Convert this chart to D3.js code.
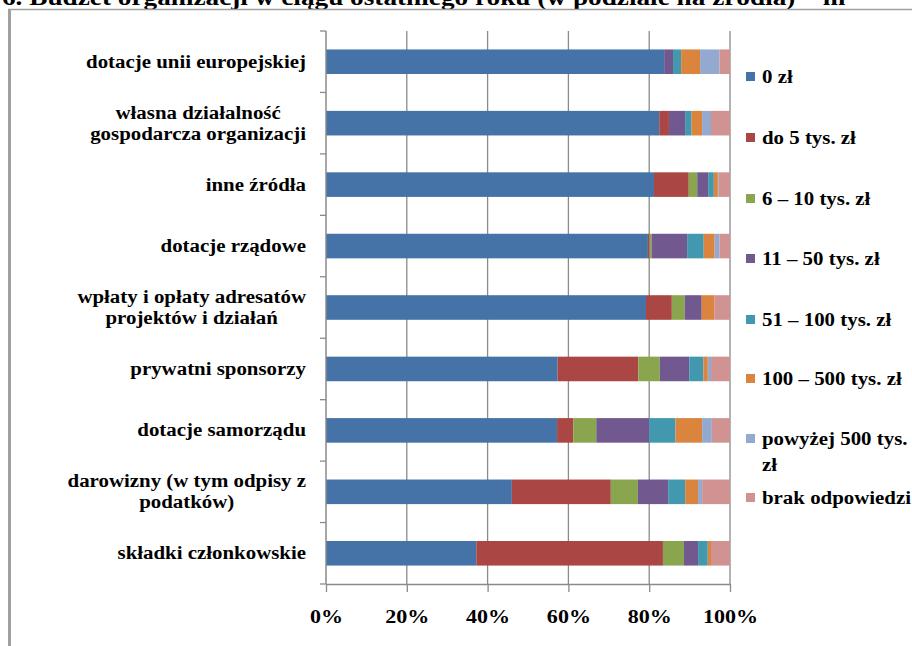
<!DOCTYPE html>
<html>
<head>
<meta charset="utf-8">
<script src="https://cdn.jsdelivr.net/npm/d3@7"></script>
<style>
    body { margin: 0; background: #fff; }
    svg { display: block; }
    text { font-family: "Liberation Serif", "Times New Roman", serif; font-weight: bold; fill: #000; }
</style>
</head>
<body>
<div id="chart"></div>
<script>
//Datos del gráfico
const categorias = [
    ['dotacje unii europejskiej'],
    ['własna działalność', 'gospodarcza organizacji'],
    ['inne źródła'],
    ['dotacje rządowe'],
    ['wpłaty i opłaty adresatów', 'projektów i działań'],
    ['prywatni sponsorzy'],
    ['dotacje samorządu'],
    ['darowizny (w tym odpisy z', 'podatków)'],
    ['składki członkowskie']
];
const series = ['0 zł', 'do 5 tys. zł', '6 – 10 tys. zł', '11 – 50 tys. zł', '51 – 100 tys. zł', '100 – 500 tys. zł', 'powyżej 500 tys. zł', 'brak odpowiedzi'];
const leyenda = [['0 zł'], ['do 5 tys. zł'], ['6 – 10 tys. zł'], ['11 – 50 tys. zł'], ['51 – 100 tys. zł'], ['100 – 500 tys. zł'], ['powyżej 500 tys.', 'zł'], ['brak odpowiedzi']];

//Valores (%) por serie, en el orden de las categorías
const v0zl     = [83.7, 82.4, 81.1, 79.6, 79.2, 57.4, 57.2, 46.0, 37.2];
const vDo5     = [0.0, 2.4, 8.6, 0.4, 6.4, 20.0, 4.0, 24.5, 46.2];
const v6_10    = [0.0, 0.0, 2.1, 0.5, 3.2, 5.3, 5.7, 6.7, 5.2];
const v11_50   = [2.2, 4.0, 2.7, 8.8, 4.2, 7.3, 13.1, 7.5, 3.5];
const v51_100  = [2.0, 1.6, 1.4, 4.1, 0.0, 3.5, 6.5, 4.2, 2.4];
const v100_500 = [4.7, 2.6, 1.0, 2.7, 3.1, 1.1, 6.6, 3.2, 0.8];
const vPow500  = [4.8, 2.2, 0.2, 1.2, 0.0, 0.8, 2.4, 1.0, 0.0];
const vBrak    = [2.6, 4.7, 2.8, 2.6, 3.9, 4.7, 4.5, 6.9, 4.7];
const valores = [v0zl, vDo5, v6_10, v11_50, v51_100, v100_500, vPow500, vBrak];

const xTicks = [0, 0.2, 0.4, 0.6, 0.8, 1];
const titulo = '6. Budżet organizacji w ciągu ostatniego roku (w podziale na źródła) – m';

//Colores (Excel 2007)
const COLORES = ['#4572A7', '#AA4643', '#89A54E', '#71588F', '#4198AF', '#DB843D', '#93A9CF', '#D19392'];
const COLOR_EJE = '#8a8a8a';
const STRETCH = 1.16;

let width = 912, height = 646;
let svg = d3.select('#chart').append('svg')
    .attr('width', width)
    .attr('height', height);

//Tabla para d3.stack
let data = categorias.map(function(c, i) {
    let row = { key: c.join(' ') };
    series.forEach(function(s, j) { row[s] = valores[j][i]; });
    return row;
});

let stacked = d3.stack()
    .keys(series)
    .offset(d3.stackOffsetExpand)(data);

let x = d3.scaleLinear().domain([0, 1]).range([326, 730]);
let y = d3.scaleBand()
    .domain(data.map(function(d) { return d.key; }))
    .range([31, 584])
    .paddingInner(0.6)
    .paddingOuter(0.3);

//Título (cortado arriba, como en el original)
svg.append('text')
    .attr('transform', 'translate(2,5) scale(' + STRETCH + ',1)')
    .style('font-size', '23.5px')
    .text(titulo);

//Marco exterior
svg.append('line')
    .attr('x1', 8).attr('x2', width).attr('y1', 9.5).attr('y2', 9.5)
    .attr('stroke', '#a0a0a0').attr('stroke-width', 1.5);
svg.append('line')
    .attr('x1', 9.5).attr('x2', 9.5).attr('y1', 9).attr('y2', height)
    .attr('stroke', '#a0a0a0').attr('stroke-width', 3);

//Líneas de cuadrícula
svg.append('g')
    .selectAll('line')
    .data(xTicks.slice(1))
    .enter()
    .append('line')
    .attr('x1', function(d) { return x(d); })
    .attr('x2', function(d) { return x(d); })
    .attr('y1', 31)
    .attr('y2', 584)
    .attr('stroke', COLOR_EJE)
    .attr('stroke-width', 1.3);

//Barras
svg.append('g')
    .selectAll('g')
    .data(stacked)
    .enter()
    .append('g')
    .attr('fill', function(d, i) { return COLORES[i]; })
    .selectAll('rect')
    .data(function(d) { return d; })
    .enter()
    .append('rect')
    .attr('x', function(d) { return x(d[0]); })
    .attr('width', function(d) { return x(d[1]) - x(d[0]); })
    .attr('y', function(d) { return y(d.data.key); })
    .attr('height', y.bandwidth());

//Eje X
let xAxis = function(g) {
    g.call(d3.axisBottom(x).tickValues(xTicks).tickFormat(d3.format('.0%')).tickSize(8).tickSizeOuter(0).tickPadding(18));
    g.call(function(g) { g.select('.domain').attr('stroke', COLOR_EJE).attr('stroke-width', 1.5); });
    g.call(function(g) { g.selectAll('.tick line').attr('stroke', COLOR_EJE).attr('stroke-width', 1.3); });
    g.call(function(g) {
        g.selectAll('.tick text')
            .attr('transform', 'scale(' + STRETCH + ',1)')
            .style('font-family', '"Liberation Serif", serif')
            .style('font-size', '19px')
            .attr('fill', '#000');
    });
};
svg.append('g')
    .attr('transform', 'translate(0,584)')
    .call(xAxis);

//Eje Y (línea y marcas entre categorías)
let gap = (y.step() - y.bandwidth()) / 2;
let limites = y.domain().map(function(d) { return y(d) - gap; });
limites.push(584);
svg.append('line')
    .attr('x1', 326).attr('x2', 326).attr('y1', 31).attr('y2', 584)
    .attr('stroke', COLOR_EJE).attr('stroke-width', 1.5);
svg.append('g')
    .selectAll('line')
    .data(limites)
    .enter()
    .append('line')
    .attr('x1', 320).attr('x2', 326)
    .attr('y1', function(d) { return d; })
    .attr('y2', function(d) { return d; })
    .attr('stroke', COLOR_EJE).attr('stroke-width', 1.3);

//Etiquetas de categorías
data.forEach(function(d, i) {
    let lineas = categorias[i];
    let cy = y(d.key) + y.bandwidth() / 2;
    let g = svg.append('g')
        .attr('transform', 'translate(306,' + cy + ') scale(' + STRETCH + ',1)');
    let textos = g.selectAll('text')
        .data(lineas)
        .enter()
        .append('text')
        .style('font-size', '18px')
        .attr('text-anchor', 'middle')
        .attr('y', function(l, j) { return 6 + (j - (lineas.length - 1) / 2) * 21; })
        .text(function(l) { return l; });
    let maxW = d3.max(textos.nodes(), function(n) { return n.getComputedTextLength(); });
    textos.attr('x', -maxW / 2);
});

//Leyenda
let legendY = [83, 144, 205, 265, 326, 385, 445, 504];
let legend = svg.append('g')
    .selectAll('g')
    .data(leyenda)
    .enter()
    .append('g')
    .attr('transform', function(d, i) { return 'translate(746,' + legendY[i] + ')'; });

legend.append('rect')
    .attr('x', 0).attr('y', -11)
    .attr('width', 9).attr('height', 9)
    .attr('fill', function(d, i) { return COLORES[i]; });

legend.append('g')
    .attr('transform', 'translate(16,0) scale(' + STRETCH + ',1)')
    .selectAll('text')
    .data(function(d) { return d; })
    .enter()
    .append('text')
    .style('font-size', '18px')
    .attr('y', function(l, j) { return j * 26; })
    .text(function(l) { return l; });
</script>
</body>
</html>
